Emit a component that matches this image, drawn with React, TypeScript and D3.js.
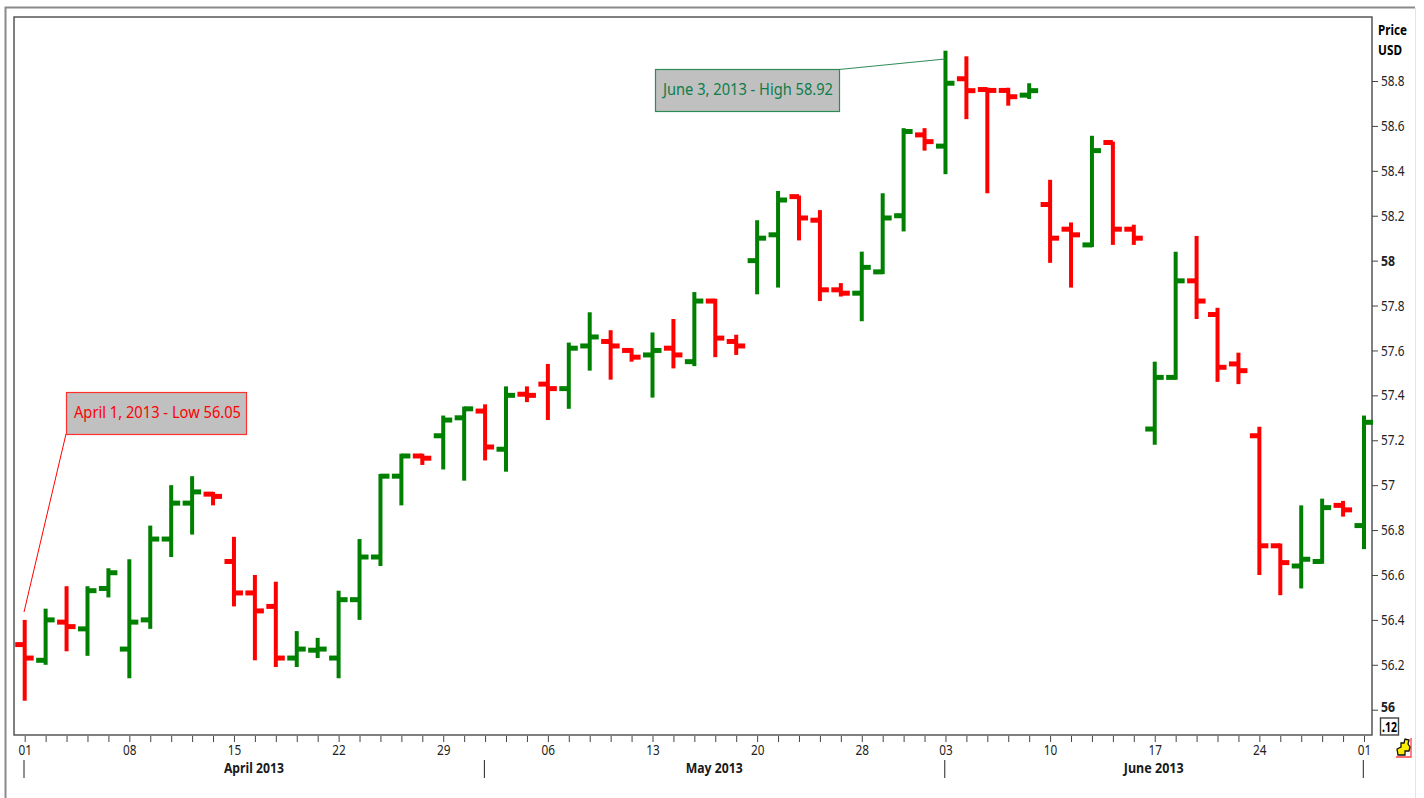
import * as d3 from 'd3';
import React, { useEffect, useRef } from 'react';

const width = 1424;
const height = 798;

// trading days, April 1 - July 1 2013
const dates = [
  '2013-04-01', '2013-04-02', '2013-04-03', '2013-04-04', '2013-04-05', '2013-04-08', '2013-04-09', '2013-04-10', '2013-04-11', '2013-04-12', '2013-04-15',
  '2013-04-16', '2013-04-17', '2013-04-18', '2013-04-19', '2013-04-22', '2013-04-23', '2013-04-24', '2013-04-25', '2013-04-26', '2013-04-29', '2013-04-30',
  '2013-05-01', '2013-05-02', '2013-05-03', '2013-05-06', '2013-05-07', '2013-05-08', '2013-05-09', '2013-05-10', '2013-05-13', '2013-05-14', '2013-05-15',
  '2013-05-16', '2013-05-17', '2013-05-20', '2013-05-21', '2013-05-22', '2013-05-23', '2013-05-24', '2013-05-28', '2013-05-29', '2013-05-30', '2013-05-31',
  '2013-06-03', '2013-06-04', '2013-06-05', '2013-06-06', '2013-06-07', '2013-06-10', '2013-06-11', '2013-06-12', '2013-06-13', '2013-06-14',
  '2013-06-17', '2013-06-18', '2013-06-19', '2013-06-20', '2013-06-21', '2013-06-24', '2013-06-25', '2013-06-26', '2013-06-27', '2013-06-28',
  '2013-07-01',
];

const opens = [
  56.29, 56.22, 56.39, 56.36, 56.54, 56.27, 56.40, 56.76, 56.92, 56.96, 56.66,
  56.52, 56.46, 56.23, 56.265, 56.23, 56.49, 56.68, 57.04, 57.13, 57.22, 57.30,
  57.33, 57.16, 57.405, 57.45, 57.43, 57.62, 57.64, 57.60, 57.58, 57.61, 57.55,
  57.82, 57.64, 58.00, 58.115, 58.285, 58.18, 57.87, 57.855, 57.95, 58.20, 58.56,
  58.51, 58.81, 58.762, 58.758, 58.737, 58.25, 58.14, 58.07, 58.526, 58.14,
  57.25, 57.48, 57.91, 57.76, 57.54, 57.22, 56.73, 56.64, 56.66, 56.91,
  56.82,
];
const highs = [
  56.40, 56.45, 56.55, 56.55, 56.63, 56.67, 56.82, 57.00, 57.04, 56.97, 56.77,
  56.60, 56.57, 56.35, 56.32, 56.53, 56.76, 57.05, 57.14, 57.14, 57.31, 57.35,
  57.36, 57.44, 57.44, 57.54, 57.635, 57.77, 57.69, 57.61, 57.68, 57.74, 57.86,
  57.83, 57.67, 58.18, 58.31, 58.29, 58.225, 57.90, 58.04, 58.30, 58.59, 58.59,
  58.935, 58.91, 58.77, 58.77, 58.79, 58.36, 58.17, 58.556, 58.53, 58.16,
  57.55, 58.04, 58.11, 57.79, 57.59, 57.26, 56.74, 56.91, 56.94, 56.93,
  57.31,
];
const lows = [
  56.04, 56.20, 56.26, 56.24, 56.50, 56.14, 56.36, 56.68, 56.78, 56.91, 56.46,
  56.22, 56.19, 56.19, 56.23, 56.14, 56.40, 56.64, 56.91, 57.09, 57.07, 57.02,
  57.11, 57.06, 57.37, 57.29, 57.34, 57.51, 57.47, 57.55, 57.39, 57.52, 57.53,
  57.57, 57.58, 57.85, 57.88, 58.09, 57.82, 57.84, 57.73, 57.94, 58.13, 58.49,
  58.385, 58.63, 58.30, 58.69, 58.72, 57.99, 57.88, 58.06, 58.07, 58.07,
  57.18, 57.47, 57.74, 57.46, 57.45, 56.60, 56.51, 56.54, 56.65, 56.86,
  56.715,
];
const closes = [
  56.23, 56.40, 56.37, 56.53, 56.61, 56.39, 56.76, 56.92, 56.97, 56.95, 56.52,
  56.44, 56.23, 56.27, 56.27, 56.49, 56.68, 57.04, 57.13, 57.12, 57.29, 57.34,
  57.17, 57.40, 57.40, 57.43, 57.61, 57.66, 57.62, 57.57, 57.60, 57.58, 57.82,
  57.655, 57.62, 58.10, 58.27, 58.19, 57.87, 57.855, 57.97, 58.19, 58.575, 58.53,
  58.79, 58.757, 58.758, 58.73, 58.757, 58.10, 58.115, 58.49, 58.14, 58.10,
  57.48, 57.91, 57.82, 57.525, 57.51, 56.73, 56.655, 56.67, 56.90, 56.89,
  57.28,
];

const priceTicks = [56, 56.2, 56.4, 56.6, 56.8, 57, 57.2, 57.4, 57.6, 57.8, 58, 58.2, 58.4, 58.6, 58.8];
const boldTicks = [56, 58];
const dayLabels = [
  '2013-04-01', '2013-04-08', '2013-04-15', '2013-04-22', '2013-04-29', '2013-05-06', '2013-05-13',
  '2013-05-20', '2013-05-28', '2013-06-03', '2013-06-10', '2013-06-17', '2013-06-24', '2013-07-01',
];
const monthStarts = ['2013-04-01', '2013-05-01', '2013-06-03', '2013-07-01'];
const monthNames = ['April 2013', 'May 2013', 'June 2013'];
const monthWidths = [60, 57, 60];

const UP = '#008000';
const DOWN = '#ff0000';
const FONT = '"Noto Sans", sans-serif';

const plot = { left: 14, top: 17, right: 1372, bottom: 735 };

export default function App() {
  const svgRef = useRef<SVGSVGElement>(null);

  useEffect(() => {
    const svg = d3.select(svgRef.current);
    svg.selectAll('*').remove();

    const x = d3.scalePoint<string>().domain(dates).range([24.7, 1364]);
    const y = d3.scaleLinear().domain([56, 58.8]).range([709.7, 81]);

    // --- Frame ---
    svg.append('path')
      .attr('d', `M5.5,${height} V7.5 H1415`)
      .attr('fill', 'none').attr('stroke', '#8a8a8a').attr('stroke-width', 2);
    svg.append('line')
      .attr('x1', 1415.5).attr('x2', 1415.5).attr('y1', 8).attr('y2', height)
      .attr('stroke', '#e4e4e4');
    svg.append('rect')
      .attr('x', plot.left).attr('y', plot.top)
      .attr('width', plot.right - plot.left).attr('height', plot.bottom - plot.top)
      .attr('fill', '#fff').attr('stroke', '#555').attr('stroke-width', 1.5);

    // --- Price axis ---
    const yAxis = d3.axisRight(y)
      .tickValues(priceTicks)
      .tickSize(6)
      .tickPadding(3)
      .tickFormat(d => String(+d));
    const yG = svg.append('g')
      .attr('transform', `translate(${plot.right},0)`)
      .call(yAxis);
    yG.select('.domain').remove();
    yG.selectAll('line').attr('stroke', '#444');
    yG.selectAll('text')
      .attr('font-family', FONT)
      .attr('font-size', 14.5)
      .attr('fill', '#222')
      .attr('font-weight', d => (boldTicks.includes(d as number) ? 700 : 400))
      .attr('lengthAdjust', 'spacingAndGlyphs')
      .attr('textLength', d => (Number.isInteger(d) ? 14 : 23.5))
      .attr('transform', d => (d === 56 ? 'translate(0,-3)' : null));

    svg.append('text').attr('x', 1378).attr('y', 35)
      .attr('font-family', FONT).attr('font-size', 14).attr('font-weight', 700)
      .attr('textLength', 29).attr('lengthAdjust', 'spacingAndGlyphs').text('Price');
    svg.append('text').attr('x', 1378).attr('y', 55)
      .attr('font-family', FONT).attr('font-size', 14).attr('font-weight', 700)
      .attr('textLength', 24).attr('lengthAdjust', 'spacingAndGlyphs').text('USD');

    svg.append('rect')
      .attr('x', 1380.5).attr('y', 718).attr('width', 18).attr('height', 17)
      .attr('fill', '#fff').attr('stroke', '#444').attr('stroke-width', 1.4);
    svg.append('text').attr('x', 1382).attr('y', 732)
      .attr('font-family', FONT).attr('font-size', 14.5).attr('font-weight', 700)
      .attr('textLength', 15).attr('lengthAdjust', 'spacingAndGlyphs').text('.12');

    // --- Day axis ---
    const xAxis = d3.axisBottom(x)
      .tickSize(6)
      .tickPadding(3)
      .tickFormat(d => (dayLabels.includes(d) ? d.slice(8) : ''));
    const xG = svg.append('g')
      .attr('transform', `translate(0,${plot.bottom + 1})`)
      .call(xAxis);
    xG.select('.domain').remove();
    xG.selectAll('line').attr('stroke', '#444');
    xG.selectAll('text')
      .filter(d => dayLabels.includes(d as string))
      .attr('font-family', FONT)
      .attr('font-size', 14.5)
      .attr('fill', '#222')
      .attr('lengthAdjust', 'spacingAndGlyphs')
      .attr('textLength', 13.5);

    // --- Month dividers and names ---
    svg.selectAll('.month-line')
      .data(monthStarts)
      .join('line')
      .attr('class', 'month-line')
      .attr('x1', d => x(d)! - 0.7).attr('x2', d => x(d)! - 0.7)
      .attr('y1', 760).attr('y2', 778)
      .attr('stroke', '#222');
    svg.selectAll('.month-name')
      .data(monthNames)
      .join('text')
      .attr('class', 'month-name')
      .attr('x', (d, i) => (x(monthStarts[i])! + x(monthStarts[i + 1])!) / 2 - 1)
      .attr('y', 773)
      .attr('text-anchor', 'middle')
      .attr('font-family', FONT).attr('font-size', 14.5).attr('font-weight', 700)
      .attr('fill', '#1a1a1a')
      .attr('lengthAdjust', 'spacingAndGlyphs')
      .attr('textLength', (d, i) => monthWidths[i])
      .text(d => d);

    // --- OHLC bars ---
    const bars = svg.selectAll('.bar')
      .data(dates)
      .join('g')
      .attr('class', 'bar')
      .attr('stroke', (d, i) => (closes[i] >= opens[i] ? UP : DOWN));
    bars.append('line')
      .attr('stroke-width', 4)
      .attr('x1', d => x(d)!).attr('x2', d => x(d)!)
      .attr('y1', (d, i) => y(highs[i])).attr('y2', (d, i) => y(lows[i]));
    bars.append('line')
      .attr('stroke-width', 5)
      .attr('x1', d => x(d)! - 9.5).attr('x2', d => x(d)!)
      .attr('y1', (d, i) => y(opens[i])).attr('y2', (d, i) => y(opens[i]));
    bars.append('line')
      .attr('stroke-width', 5)
      .attr('x1', d => x(d)!).attr('x2', d => x(d)! + 9)
      .attr('y1', (d, i) => y(closes[i])).attr('y2', (d, i) => y(closes[i]));

    // --- Callouts ---
    svg.append('line')
      .attr('x1', 66).attr('y1', 434)
      .attr('x2', 24).attr('y2', 612)
      .attr('stroke', DOWN);
    svg.append('rect')
      .attr('x', 66.5).attr('y', 392.5).attr('width', 180).attr('height', 42)
      .attr('fill', '#c0c0c0').attr('stroke', '#ff3030').attr('stroke-width', 1.2);
    svg.append('text').attr('x', 74).attr('y', 418)
      .attr('font-family', FONT).attr('font-size', 16.5)
      .attr('textLength', 167).attr('lengthAdjust', 'spacingAndGlyphs')
      .attr('fill', DOWN).text('April 1, 2013 - Low 56.05');

    svg.append('line')
      .attr('x1', 839).attr('y1', 69.5)
      .attr('x2', 945).attr('y2', 59)
      .attr('stroke', '#2e8b57');
    svg.append('rect')
      .attr('x', 655.5).attr('y', 69.5).attr('width', 184).attr('height', 42)
      .attr('fill', '#c0c0c0').attr('stroke', '#2e8b57').attr('stroke-width', 1.2);
    svg.append('text').attr('x', 663).attr('y', 95)
      .attr('font-family', FONT).attr('font-size', 16.5)
      .attr('textLength', 170).attr('lengthAdjust', 'spacingAndGlyphs')
      .attr('fill', '#0b7d4a').text('June 3, 2013 - High 58.92');

    // --- Little yellow icon next to the corner ---
    const icon = svg.append('g').attr('transform', 'translate(1396,738)');
    icon.append('path').attr('d', 'M15,0 V19 H0').attr('fill', 'none').attr('stroke', '#ff4040').attr('stroke-width', 1.3);
    icon.append('path')
      .attr('d', 'M2,17 L1,11 L5,9 L5,5 L8,5 L9,1 L13,2 L12,6 L14,9 L13,13 L9,13 L9,17 Z')
      .attr('fill', '#ffee00').attr('stroke', '#111').attr('stroke-width', 1.3);
  }, []);

  return (
    <svg
      ref={svgRef}
      width={width}
      height={height}
      style={{ position: 'absolute', left: 0, top: 0, background: '#fff', display: 'block' }}
    />
  );
}
